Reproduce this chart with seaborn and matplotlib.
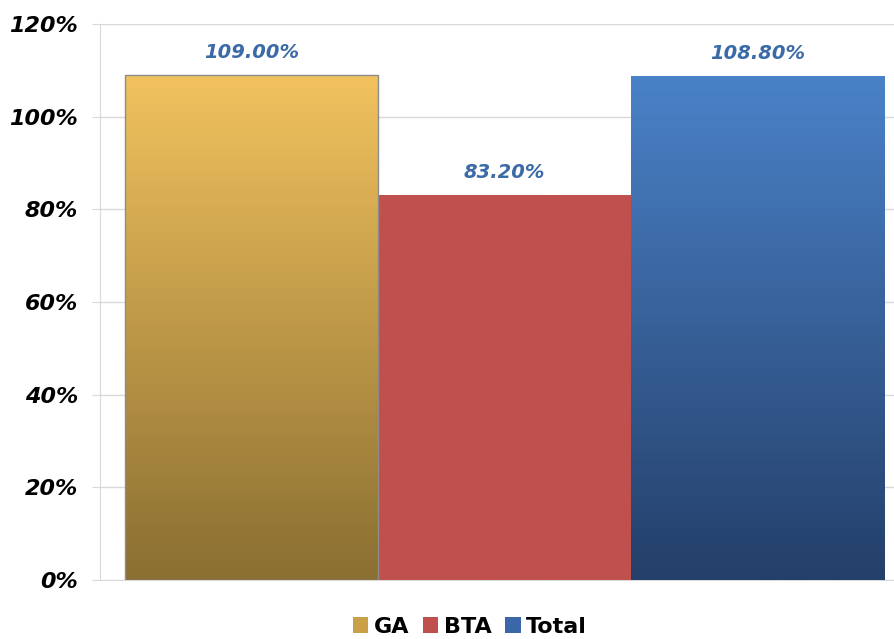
import numpy as np
import pandas as pd
import matplotlib
matplotlib.use("Agg")
import matplotlib.pyplot as plt
import matplotlib.colors as mcolors
from matplotlib.patches import Patch
import seaborn as sns

series = ["GA", "BTA", "Total"]
values = [109.0, 83.2, 108.8]
labels = ["109.00%", "83.20%", "108.80%"]
yticks = [0, 20, 40, 60, 80, 100, 120]
ytick_labels = ["0%", "20%", "40%", "60%", "80%", "100%", "120%"]

# (top colour, bottom colour) per bar
grad = {
    "GA": ("#F2C25E", "#8A6F32"),
    "BTA": ("#C0504D", "#C0504D"),
    "Total": ("#4A82C8", "#243F69"),
}
legend_cols = {"GA": "#C9A045", "BTA": "#C0504D", "Total": "#3A67A8"}

sns.set_style("white")
plt.rcParams["font.family"] = ["DejaVu Sans"]

fig = plt.figure(figsize=(8.95, 6.39), dpi=100)
ax = fig.add_axes([100 / 895, 1 - 580 / 639, 795 / 895, (580 - 24) / 639])

df = pd.DataFrame({"series": series, "value": values})
sns.barplot(data=df, x="series", y="value", hue="series",
            palette=[grad[s][0] for s in series], width=1.0,
            legend=False, ax=ax, zorder=3)

for patch, s in zip(ax.patches, series):
    top, bot = grad[s]
    x0, y0 = patch.get_x(), patch.get_y()
    w, h = patch.get_width(), patch.get_height()
    cmap = mcolors.LinearSegmentedColormap.from_list(s, [bot, top])
    img = ax.imshow(np.linspace(0, 1, 256).reshape(-1, 1), cmap=cmap,
                    origin="lower", aspect="auto",
                    extent=[x0, x0 + w, y0, y0 + h], zorder=3.5)
    img.set_clip_path(patch)
    if s == "GA":
        patch.set_edgecolor("#8C8C8C")
        patch.set_linewidth(1.0)
    else:
        patch.set_edgecolor("none")
    patch.set_zorder(4)
    patch.set_facecolor("none")

ax.set_xlim(-0.599, 2.543)
ax.set_ylim(0, 120)

for patch, lab in zip(ax.patches, labels):
    ax.annotate(lab, (patch.get_x() + patch.get_width() / 2, patch.get_height()),
                xytext=(0, 9), textcoords="offset points", ha="center", va="bottom",
                fontsize=14, fontstyle="italic", fontweight="bold", color="#3B6BA6")

ax.set_yticks(yticks)
ax.set_yticklabels(ytick_labels, fontsize=16, fontweight="bold", fontstyle="italic",
                   color="black")
ax.set_xticks([])
ax.set_xlabel("")
ax.set_ylabel("")
ax.grid(axis="y", color="#D9D9D9", linewidth=1.0, zorder=0)
ax.tick_params(axis="y", length=6, color="#D9D9D9", pad=10, left=True)
for sp in ["top", "right"]:
    ax.spines[sp].set_visible(False)
ax.spines["left"].set_color("#D9D9D9")
ax.spines["bottom"].set_color("#D9D9D9")

handles = [Patch(facecolor=legend_cols[s], edgecolor="none", label=s) for s in series]
leg = fig.legend(handles=handles, loc="center", bbox_to_anchor=(470 / 895, 1 - 627 / 639),
                 ncol=3, frameon=False, prop={"size": 16, "weight": "bold"},
                 handlelength=0.7, handleheight=0.7, handletextpad=0.25, columnspacing=0.6)
for t in leg.get_texts():
    t.set_color("black")

fig.savefig("out.png", dpi=100)
